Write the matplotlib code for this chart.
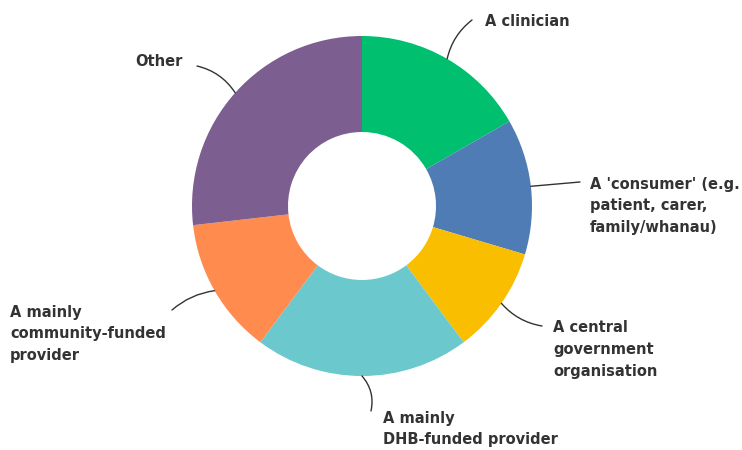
import numpy as np
import matplotlib.pyplot as plt

# slices, clockwise from 12 o'clock
labels = [
    "A clinician",
    "A 'consumer' (e.g.\npatient, carer,\nfamily/whanau)",
    "A central\ngovernment\norganisation",
    "A mainly\nDHB-funded provider",
    "A mainly\ncommunity-funded\nprovider",
    "Other",
]
shares = [16.7, 12.9, 10.2, 20.4, 13.0, 26.8]
colors = ["#00BF6F", "#507CB6", "#F9BE00", "#6BC8CD", "#FF8B4F", "#7D5E90"]

W, H = 742, 450
fig = plt.figure(figsize=(W / 100, H / 100), dpi=100)
ax = fig.add_axes([0, 0, 1, 1])

cx, cy, r_out, r_in = 362, H - 206, 170, 74
wedges, _ = ax.pie(shares, colors=colors, startangle=90, counterclock=False,
                   center=(cx, cy), radius=r_out, frame=True,
                   wedgeprops=dict(width=r_out - r_in, edgecolor="none"))
ax.set_xlim(0, W)
ax.set_ylim(0, H)
ax.set_aspect("equal")
ax.axis("off")

# leader line end (pixels from top-left), text anchor, curvature
leaders = [
    ((472, 20), (485, 21), 0.18),
    ((580, 182), (590, 184), 0.0),
    ((542, 326), (553, 328), -0.18),
    ((371, 411), (383, 418), 0.25),
    ((172, 310), (10, 312), -0.15),
    ((197, 66), (135, 62), -0.2),
]

ink = "#333333"
font = dict(family="DejaVu Sans", fontsize=10.5, fontweight="bold",
            color=ink, linespacing=1.55)

for w, lab, (end, txt, rad) in zip(wedges, labels, leaders):
    mid = np.deg2rad((w.theta1 + w.theta2) / 2)
    sx = cx + r_out * np.cos(mid)
    sy = cy + r_out * np.sin(mid)
    ax.annotate("", xy=(sx, sy), xytext=(end[0], H - end[1]),
                arrowprops=dict(arrowstyle="-", color=ink, lw=1.0,
                                shrinkA=0, shrinkB=0,
                                connectionstyle=f"arc3,rad={rad}"))
    # first line of the block sits at the anchor height
    ax.text(txt[0], H - txt[1] + 7.5, lab, ha="left", va="top", **font)

fig.savefig("out.png", dpi=100)
